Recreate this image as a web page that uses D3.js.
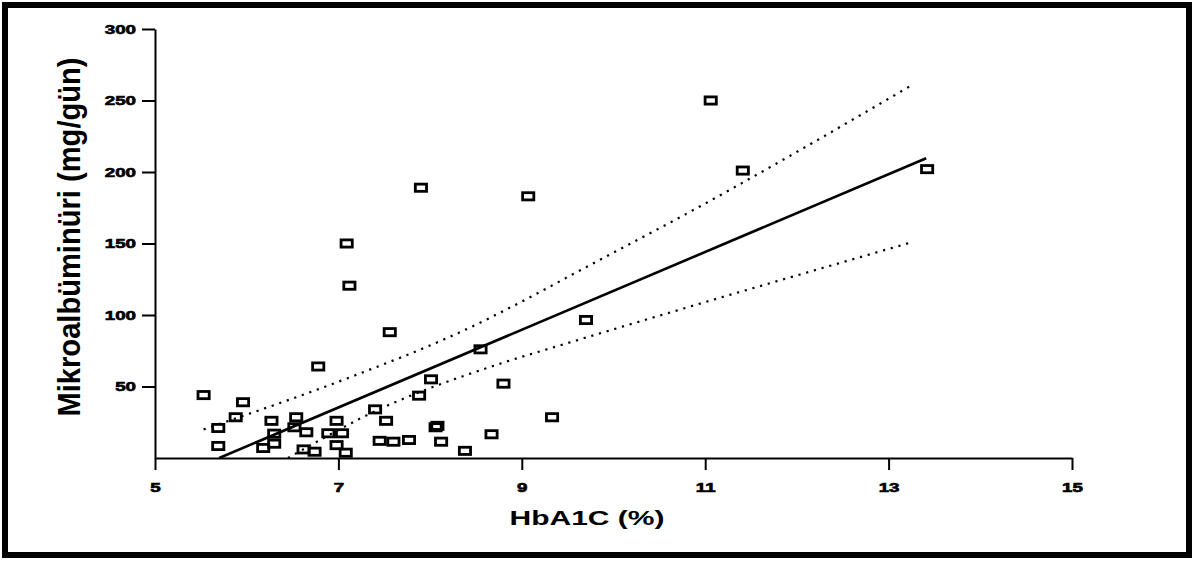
<!DOCTYPE html>
<html lang="tr">
  <head>
    <script src="https://d3js.org/d3.v7.min.js"></script>
    <meta charset="UTF-8" />
    <title>Mikroalbüminüri ve HbA1C</title>
    <style>
      body { margin: 0; background: #fff; }
      text { font-family: "Liberation Sans", Arial, sans-serif; }
    </style>
  </head>
  <body>
    <svg width="1202" height="562"></svg>
    <script>
      // HbA1C (%) and Mikroalbüminüri (mg/gün)
      var hba1c = [5.53, 5.69, 5.69, 5.88, 5.96, 6.18, 6.27, 6.3, 6.3, 6.54,
        6.52, 6.65, 6.62, 6.74, 6.78, 6.89, 6.98, 7.04, 6.98, 7.08,
        7.09, 7.12, 7.4, 7.52, 7.45, 7.6, 7.77, 7.56, 7.88, 7.9,
        8.01, 8.06, 8.08, 8.12, 8.38, 8.55, 8.67, 8.8, 9.07, 9.33,
        9.7, 11.06, 11.41, 13.42];
      var mikro = [44, 21, 8.4, 28.5, 39, 7, 26, 17, 10, 28.5,
        21.5, 18, 6, 4.4, 64, 17.3, 26, 17.3, 9, 3.7,
        150, 120.5, 34, 26, 12, 11.4, 12.6, 88, 43.6, 189,
        55, 21.5, 22.5, 11.4, 5, 76, 16.6, 52, 183, 28.5,
        96.5, 250, 201, 202];

      var xTicks = [5, 7, 9, 11, 13, 15];
      var yTicks = [50, 100, 150, 200, 250, 300];

      // regression line and the two dotted confidence curves
      var fitX = [5.7, 13.41];
      var fitY = [0, 209.6];
      var upperX = [5.53, 7.19, 8.19, 10.01, 10.57, 13.26];
      var upperY = [20, 58, 84, 144, 163, 261];
      var lowerX = [6.45, 6.8, 7.24, 8.75, 9.43, 10.34, 13.26];
      var lowerY = [0, 12.6, 27.7, 65.7, 79, 96.5, 151];

      var svg = d3.select("svg");

      // thick frame of the scanned figure
      svg.append("rect")
        .attr("x", 5)
        .attr("y", 5)
        .attr("width", 1184)
        .attr("height", 550)
        .attr("fill", "none")
        .attr("stroke", "#000")
        .attr("stroke-width", 6);

      var x = d3.scaleLinear().domain([5, 15]).range([155, 1072]);
      var y = d3.scaleLinear().domain([0, 300]).range([458, 29]);

      var g = svg.append("g");

      var xAxis = g.append("g")
        .attr("transform", "translate(0,458)")
        .call(d3.axisBottom(x).tickValues(xTicks).tickSize(12).tickSizeOuter(0).tickPadding(13));
      var yAxis = g.append("g")
        .attr("transform", "translate(155,0)")
        .call(d3.axisLeft(y).tickValues(yTicks).tickSize(13).tickSizeOuter(0).tickPadding(6));

      [xAxis, yAxis].forEach(function (a) {
        a.select(".domain").attr("stroke", "#000").attr("stroke-width", 2);
        a.selectAll(".tick line").attr("stroke", "#000").attr("stroke-width", 2);
        a.selectAll(".tick text")
          .attr("fill", "#000")
          .attr("stroke", "#000")
          .attr("stroke-width", 0.6)
          .style("font-size", "12.5px")
          .style("font-weight", "bold")
          .each(function () {
            // the scan is stretched sideways, so widen the digits
            var w = this.getComputedTextLength();
            d3.select(this)
              .attr("textLength", w * 1.5)
              .attr("lengthAdjust", "spacingAndGlyphs");
          });
      });

      var line = d3.line()
        .x(function (d) { return x(d[0]); })
        .y(function (d) { return y(d[1]); });

      g.append("path")
        .datum(d3.zip(fitX, fitY))
        .attr("d", line)
        .attr("fill", "none")
        .attr("stroke", "#000")
        .attr("stroke-width", 2.6);

      var band = d3.line()
        .curve(d3.curveMonotoneX)
        .x(function (d) { return x(d[0]); })
        .y(function (d) { return y(d[1]); });

      [d3.zip(upperX, upperY), d3.zip(lowerX, lowerY)].forEach(function (pts) {
        g.append("path")
          .datum(pts)
          .attr("d", band)
          .attr("fill", "none")
          .attr("stroke", "#000")
          .attr("stroke-width", 2.2)
          .attr("stroke-dasharray", "2.2,5.8");
      });

      g.selectAll(".pt")
        .data(d3.zip(hba1c, mikro))
        .enter()
        .append("rect")
        .attr("class", "pt")
        .attr("x", function (d) { return x(d[0]) - 5.6; })
        .attr("y", function (d) { return y(d[1]) - 3.6; })
        .attr("width", 11.2)
        .attr("height", 7.2)
        .attr("fill", "none")
        .attr("stroke", "#000")
        .attr("stroke-width", 2.8);

      // axis titles
      svg.append("text")
        .attr("transform", "translate(80,237) rotate(-90) scale(1,1.2)")
        .attr("text-anchor", "middle")
        .attr("textLength", 359)
        .attr("lengthAdjust", "spacingAndGlyphs")
        .style("font-size", "26px")
        .style("font-weight", "bold")
        .text("Mikroalbüminüri (mg/gün)");

      svg.append("text")
        .attr("x", 587)
        .attr("y", 525)
        .attr("text-anchor", "middle")
        .attr("textLength", 155)
        .attr("lengthAdjust", "spacingAndGlyphs")
        .style("font-size", "21px")
        .style("font-weight", "bold")
        .text("HbA1C (%)");
    </script>
  </body>
</html>
